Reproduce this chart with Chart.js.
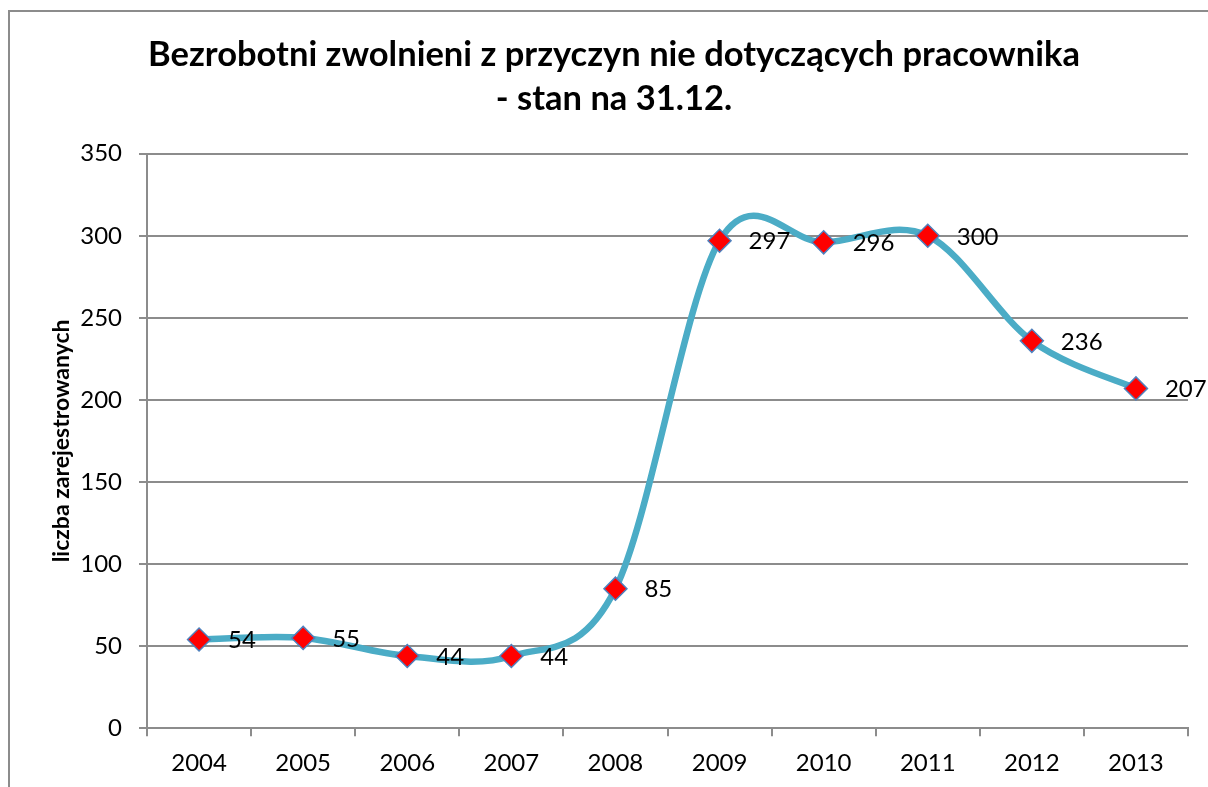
<!DOCTYPE html>
<html>
<head>
<meta charset="utf-8">
<script src="https://cdn.jsdelivr.net/npm/chart.js@4"></script>
<style>
body { margin: 0; overflow: hidden; background: #fff; }
#frame { position: absolute; left: 8px; top: 10px; width: 1240px; height: 800px; border: 2px solid #8c8c8c; }
#wrap { position: absolute; left: 0; top: 0; width: 1208px; height: 787px; overflow: hidden; }
</style>
</head>
<body>
<div id="frame"></div>
<div id="wrap"><canvas id="bezrobotniChart" width="1208" height="791"></canvas></div>
<script>
// dane
const lata = ['2004', '2005', '2006', '2007', '2008', '2009', '2010', '2011', '2012', '2013'];
const bezrobotni = [54, 55, 44, 44, 85, 297, 296, 300, 236, 207];
const yMin = 0;
const yMax = 350;
const yStep = 50;

const fontName = 'Lato';
const gridColor = '#8c8c8c';

// etykiety wartosci po prawej stronie punktow
const etykiety = {
    id: 'etykiety',
    afterDatasetsDraw(chart) {
        const ctx = chart.ctx;
        const meta = chart.getDatasetMeta(0);
        ctx.save();
        ctx.font = '24px ' + fontName;
        ctx.fillStyle = '#000';
        ctx.textBaseline = 'middle';
        meta.data.forEach(function(pt, i) {
            ctx.fillText(String(bezrobotni[i]), pt.x + 29, pt.y + 1);
        });
        ctx.restore();
    }
};

// wygladzanie jak w Excelu (Catmull-Rom, 1/6 cieciwy)
const wygladzanie = {
    id: 'wygladzanie',
    beforeDatasetsDraw(chart) {
        const meta = chart.getDatasetMeta(0);
        meta.dataset.updateControlPoints(chart.chartArea, 'x');
        const pts = meta.data;
        pts.forEach(function(p, i) {
            const prev = pts[i - 1] || p;
            const next = pts[i + 1] || p;
            const dx = (next.x - prev.x) / 6;
            const dy = (next.y - prev.y) / 6;
            p.cp1x = p.x - dx; p.cp1y = p.y - dy;
            p.cp2x = p.x + dx; p.cp2y = p.y + dy;
        });
    }
};

var ctx = document.getElementById('bezrobotniChart').getContext('2d');
var bezrobotniChart = new Chart(ctx, {
    type: 'line',
    data: {
        labels: lata,
        datasets: [{
            label: 'bezrobotni',
            data: bezrobotni,
            borderColor: '#4BACC6',
            borderWidth: 6.5,
            tension: 0.4,
            fill: false,
            pointStyle: 'rectRot',
            pointRadius: 11.5,
            pointHoverRadius: 11.5,
            pointBackgroundColor: '#FF0000',
            pointBorderColor: '#4F81BD',
            pointBorderWidth: 1.5
        }]
    },
    options: {
        responsive: false,
        animation: false,
        layout: {
            padding: { left: 40, right: 20, top: 0, bottom: 0 }
        },
        plugins: {
            legend: { display: false },
            tooltip: { enabled: false },
            title: {
                display: true,
                text: ['Bezrobotni zwolnieni z przyczyn nie dotyczących pracownika', '- stan na 31.12.'],
                color: '#000',
                font: { family: fontName, size: 34.5, weight: 'bold', lineHeight: 1.3 },
                padding: { top: 32, bottom: 32 }
            }
        },
        scales: {
            x: {
                offset: true,
                grid: { offset: true, drawOnChartArea: false, drawTicks: true, tickLength: 8, color: gridColor, lineWidth: 2 },
                border: { color: gridColor, width: 2 },
                ticks: { color: '#000', font: { family: fontName, size: 24 }, padding: 13, maxRotation: 0 }
            },
            y: {
                min: yMin,
                max: yMax,
                grid: { color: gridColor, lineWidth: 2, tickLength: 8, drawTicks: true },
                border: { color: gridColor, width: 2 },
                ticks: { stepSize: yStep, color: '#000', font: { family: fontName, size: 24 }, padding: 17 },
                title: {
                    display: true,
                    text: 'liczba zarejestrowanych',
                    color: '#000',
                    font: { family: fontName, size: 23, weight: 'bold' },
                    padding: { top: 8, bottom: 4 }
                },
                afterFit: function(scale) { scale.width = 107; }
            }
        }
    },
    plugins: [wygladzanie, etykiety]
});
</script>
</body>
</html>
